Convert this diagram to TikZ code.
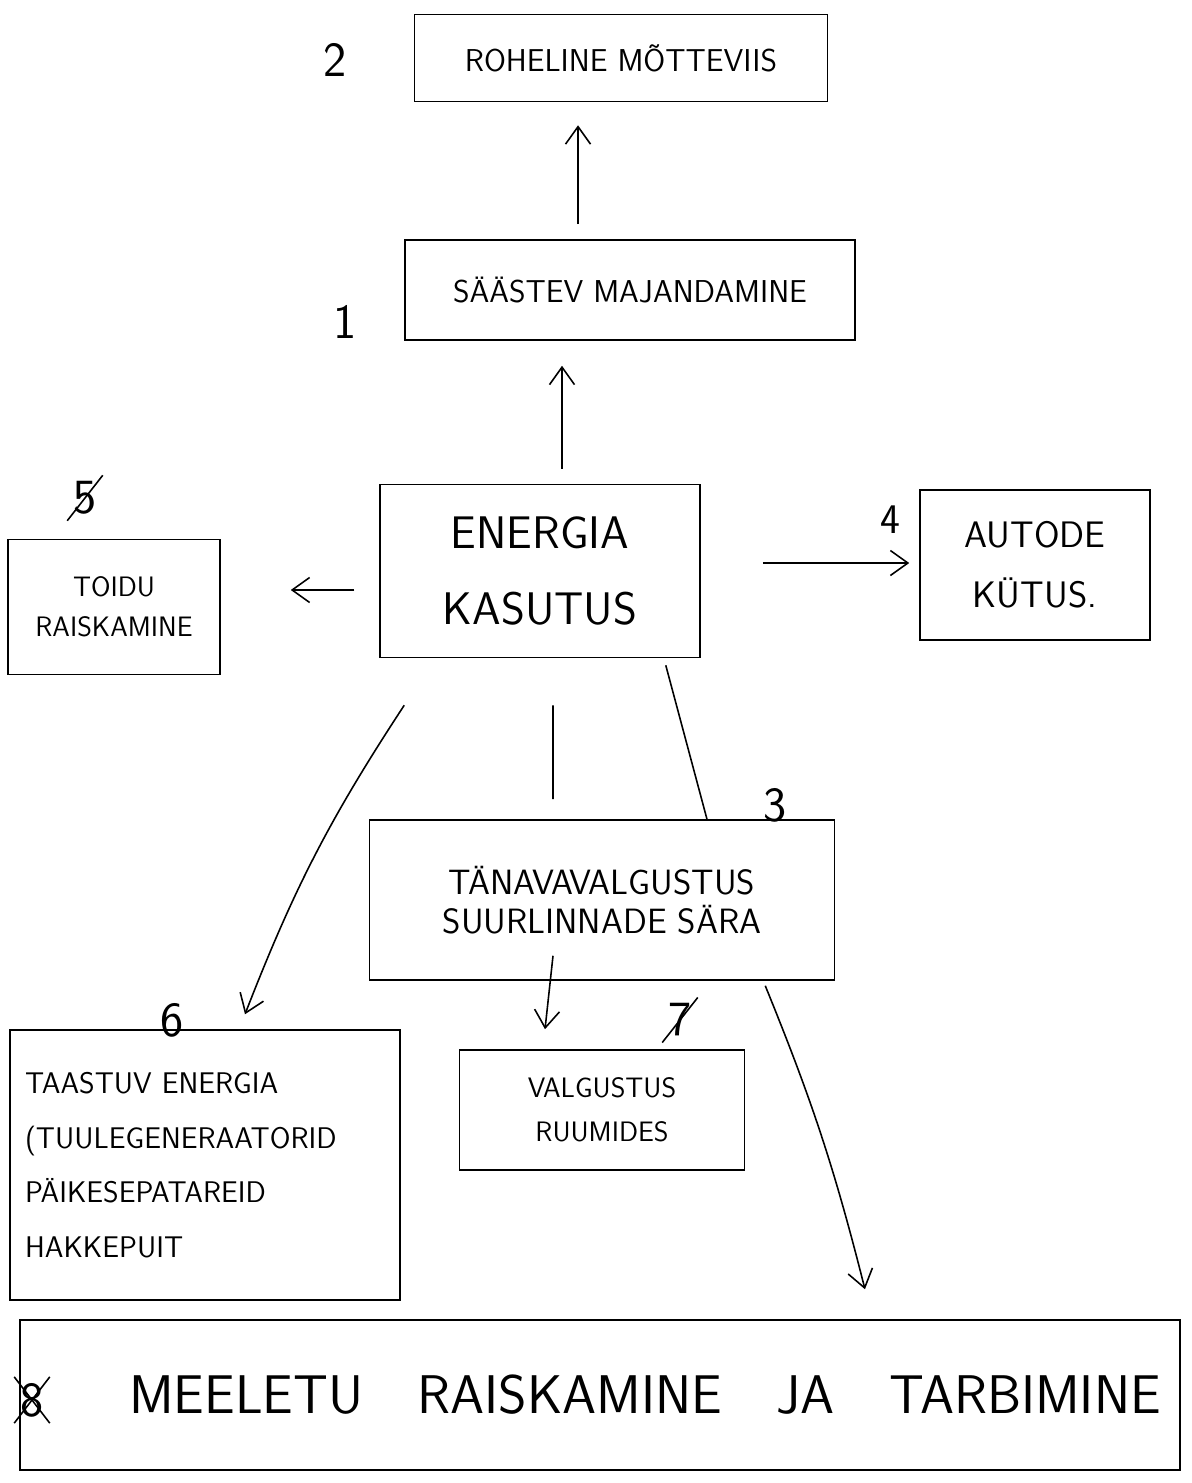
\documentclass[tikz,border=0pt]{standalone}
\usepackage{tikz}
\usetikzlibrary{arrows.meta,calc}
\tikzset{
         box/.style={draw=black,line width=0.9pt,inner sep=0pt,align=center},
         arr/.style={line width=0.9pt,-{Straight Barb[length=3.5mm,width=5mm]}},
         conn/.style={line width=0.9pt},
         num/.style={font=\sffamily\fontsize{28}{30}\selectfont}
        }
\newcommand{\hand}[2]{\sffamily\fontsize{#1}{#2}\selectfont}

\begin{document}
\begin{tikzpicture}[x=0.02cm,y=-0.02cm]
\useasboundingbox (0,0) rectangle (1191,1483); %page
%boxes
\node[box,minimum width=8.26cm,minimum height=1.74cm,font=\hand{18}{22}] (rohe) at (621,58) {ROHELINE M\~OTTEVIIS};
\node[box,minimum width=9cm,minimum height=2cm,font=\hand{18}{22}] (saast) at (630,290) {S\"A\"ASTEV MAJANDAMINE};
\node[box,minimum width=6.4cm,minimum height=3.46cm,font=\hand{26}{43}] (energia) at (540,571) {ENERGIA\\KASUTUS};
\node[box,minimum width=4.24cm,minimum height=2.7cm,font=\hand{16}{23}] (toidu) at (114,607) {TOIDU\\RAISKAMINE};
\node[box,minimum width=4.6cm,minimum height=3cm,font=\hand{21}{34}] (autode) at (1035,565) {AUTODE\\K\"UTUS.};
\node[box,minimum width=9.3cm,minimum height=3.2cm,font=\hand{20}{22}] (tanava) at (602,900) {T\"ANAVAVALGUSTUS\\SUURLINNADE S\"ARA};
\node[box,minimum width=5.7cm,minimum height=2.4cm,font=\hand{16}{25}] (valg) at (602,1110) {VALGUSTUS\\RUUMIDES};
\node[box,minimum width=7.8cm,minimum height=5.4cm,align=left,text width=7.2cm,font=\hand{17}{31}] (taastuv) at (205,1165) {TAASTUV ENERGIA\\(TUULEGENERAATORID\\P\"AIKESEPATAREID\\HAKKEPUIT};
\node[box,minimum width=23.2cm,minimum height=3cm,font=\hand{31}{34}] (meeletu) at (600,1395) {\hspace*{1.8cm}MEELETU\quad RAISKAMINE\quad JA\quad TARBIMINE};
%numbers
\node[num] (n1) at (345,322) {1};
\node[num] (n2) at (335,60) {2};
\node[num] (n3) at (775,805) {3};
\node[num,font=\hand{24}{26}] (n4) at (890,520) {4};
\node[num] (n5) at (85,498) {5};
\node[num] (n6) at (172,1020) {6};
\node[num] (n7) at (680,1020) {7};
\node[num] (n8) at (32,1400) {8};
%crossed out numbers
\draw[conn] (n5.south west) -- (n5.north east);
\draw[conn] (n7.south west) -- (n7.north east);
\draw[conn] (n8.south west) -- (n8.north east);
\draw[conn] (n8.north west) -- (n8.south east);
%arrows
\draw[arr,shorten <=0.3cm,shorten >=0.46cm] ([xshift=-1.04cm]saast.north) -- ([xshift=-1.04cm]saast.north |- rohe.south);
\draw[arr,shorten <=0.3cm,shorten >=0.5cm] ([xshift=0.44cm]energia.north) -- ([xshift=0.44cm]energia.north |- saast.south);
\draw[arr,shorten <=0.5cm,shorten >=1.4cm] ([yshift=-0.38cm]energia.west) -- ([yshift=-0.38cm]energia.west -| toidu.east);
\draw[arr,shorten <=1.24cm,shorten >=0.2cm] ([yshift=0.16cm]energia.east) -- ([yshift=0.16cm]energia.east -| autode.west);
\draw[arr] ([xshift=0.5cm,yshift=-0.94cm]energia.south west) to[bend right=6] ([xshift=0.8cm,yshift=0.3cm]taastuv.north);
\draw[conn] ([xshift=0.26cm,yshift=-0.94cm]energia.south) -- ([xshift=-0.98cm,yshift=0.4cm]tanava.north);
\draw[conn] ([xshift=-0.7cm,yshift=-0.14cm]energia.south east) -- ([xshift=2.1cm]tanava.north);
\draw[arr] ([xshift=-0.98cm,yshift=0.5cm]tanava.south) -- ([xshift=-1.14cm,yshift=0.4cm]valg.north);
\draw[arr] ([xshift=-1.4cm,yshift=-0.1cm]tanava.south east) to[bend left=4] ([xshift=5.3cm,yshift=0.6cm]meeletu.north);
\end{tikzpicture}
\end{document}
